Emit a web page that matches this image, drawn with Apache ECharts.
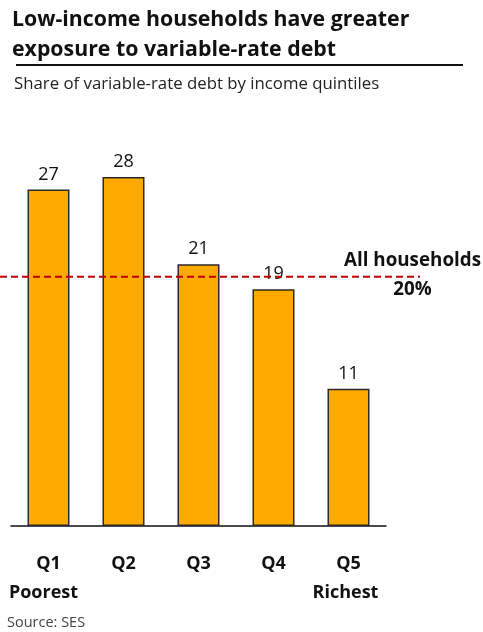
<!DOCTYPE html>
<html>
<head>
<meta charset="utf-8">
<script src="https://cdn.jsdelivr.net/npm/echarts@6/dist/echarts.min.js"></script>
<style>
  html, body { margin: 0; padding: 0; background: #fff; }
  #chart { width: 483px; height: 632px; }
</style>
</head>
<body>
<div id="chart"></div>
<script>
// Income quintiles and their share of variable-rate debt (%)
const quintiles = ['Q1', 'Q2', 'Q3', 'Q4', 'Q5'];
const quintileNotes = ['Poorest', '', '', '', 'Richest'];
const shareValues = [27, 28, 21, 19, 11];
// Share across all households (%)
const allHouseholds = 20;

const FONT = '"Open Sans", Lato, sans-serif';
const gridTop = 152, gridBottom = 106;
const yMax = 30;

const chart = echarts.init(document.getElementById('chart'));
chart.setOption({
  animation: false,
  textStyle: { fontFamily: FONT },
  title: [
    {
      text: 'Low-income households have greater\nexposure to variable-rate debt',
      left: 12, top: 5, padding: 0,
      textStyle: { fontFamily: FONT, fontSize: 21.3, fontWeight: 'bold', color: '#111', lineHeight: 30 }
    },
    {
      text: 'Share of variable-rate debt by income quintiles',
      left: 14, top: 76, padding: 0,
      textStyle: { fontFamily: FONT, fontSize: 16.8, fontWeight: 'normal', color: '#222' }
    },
    {
      text: 'Source: SES',
      left: 7, top: 615, padding: 0,
      textStyle: { fontFamily: FONT, fontSize: 14.5, fontWeight: 'normal', color: '#444' }
    }
  ],
  graphic: [
    {
      type: 'line',
      shape: { x1: 16, y1: 65, x2: 463, y2: 65 },
      style: { stroke: '#111', lineWidth: 2 }
    },
    {
      type: 'text',
      left: 344, top: 246,
      style: {
        text: 'All households\n' + allHouseholds + '%',
        fontFamily: FONT, fontSize: 18.8, fontWeight: 'bold', fill: '#111',
        textAlign: 'center', lineHeight: 29
      }
    }
  ],
  grid: [
    { left: 11, right: 97, top: gridTop, bottom: gridBottom },
    { left: 0, right: 63, top: gridTop, bottom: gridBottom }
  ],
  xAxis: [
    {
      type: 'category', gridIndex: 0, data: quintiles,
      axisLine: { lineStyle: { color: '#111', width: 1.5 } },
      axisTick: { show: false },
      axisLabel: {
        margin: 23, interval: 0,
        formatter: function (v, i) {
          const note = quintileNotes[i];
          if (!note) return '{q|' + v + '}';
          return '{q|' + v + '}\n{' + (i === 0 ? 'l' : 'r') + '|' + note + '}';
        },
        rich: {
          q: { color: '#111', fontFamily: FONT, fontSize: 18, fontWeight: 'bold', lineHeight: 29 },
          l: { color: '#111', fontFamily: FONT, fontSize: 18, fontWeight: 'bold', lineHeight: 29, padding: [0, 10, 0, 0] },
          r: { color: '#111', fontFamily: FONT, fontSize: 18, fontWeight: 'bold', lineHeight: 29, padding: [0, 6, 0, 0] }
        }
      }
    },
    { type: 'value', gridIndex: 1, min: 0, max: 1, show: false }
  ],
  yAxis: [
    { type: 'value', gridIndex: 0, min: 0, max: yMax, show: false },
    { type: 'value', gridIndex: 1, min: 0, max: yMax, show: false }
  ],
  series: [
    {
      type: 'bar', xAxisIndex: 0, yAxisIndex: 0,
      data: shareValues, barWidth: 42,
      itemStyle: { color: '#FFAA00', borderColor: '#2a2a2a', borderWidth: 1.5 },
      label: {
        show: true, position: 'top', distance: 6,
        color: '#111', fontFamily: FONT, fontSize: 18
      },
      z: 2
    },
    {
      type: 'line', xAxisIndex: 1, yAxisIndex: 1,
      data: [[0, allHouseholds], [1, allHouseholds]],
      symbol: 'none',
      lineStyle: { color: '#C00000', width: 2, type: [7, 4] },
      z: 3
    }
  ]
});
</script>
</body>
</html>
